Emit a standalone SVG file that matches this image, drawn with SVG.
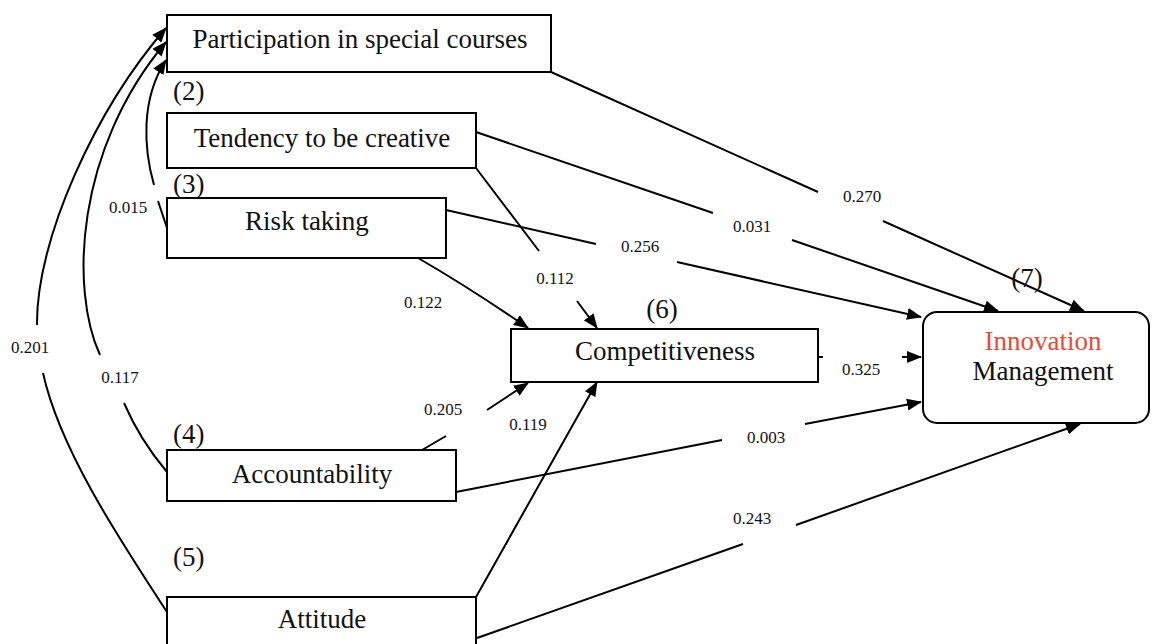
<svg xmlns="http://www.w3.org/2000/svg" width="1152" height="644" viewBox="0 0 1152 644">
<style>
.box{fill:#fff;stroke:#000;stroke-width:2}
.t{font-family:"Liberation Serif","Times New Roman",serif;font-size:27px;fill:#111;text-anchor:middle}
.n{font-family:"Liberation Serif","Times New Roman",serif;font-size:27px;fill:#111}
.lbl{font-family:"Liberation Serif","Times New Roman",serif;font-size:17px;fill:#111;text-anchor:middle}
.c{fill:none;stroke:#000;stroke-width:2}
.a{marker-end:url(#ah)}
</style>
<defs>
<marker id="ah" markerUnits="userSpaceOnUse" markerWidth="15" markerHeight="12" refX="14" refY="6" orient="auto">
<path d="M0,0 L15,6 L0,12 Z" fill="#000"/>
</marker>
</defs>
<rect width="1152" height="644" fill="#fff"/>
<g id="connectors">
<path class="c a" d="M551,72 L818,192 M883,221 L1084,311"/>
<path class="c a" d="M476,132 L713,213 M792,240 L998,311"/>
<path class="c a" d="M446,210 L596,244 M677,262 L921,317"/>
<path class="c a" d="M476,168 L539,251 M577,301 L597,328"/>
<path class="c a" d="M418,258 Q470,288 528,328"/>
<path class="c a" d="M818,357 L823,357 M902,357 L921,357"/>
<path class="c a" d="M422,450 L446,436 M487,410 L528,383"/>
<path class="c a" d="M476,597 L597,382"/>
<path class="c a" d="M456,492 L722,440 M805,424 L921,402"/>
<path class="c a" d="M477,638 L743,544 M796,525 L1080,424"/>
<path class="c a" d="M167,612 C120,540 60,450 43,373 M37,325 C36,240 95,110 166,28"/>
<path class="c a" d="M167,472 Q140,440 124,403 M100,355 C70,290 75,150 166,42"/>
<path class="c a" d="M167,228 L158,201 M154,185 C144,150 140,100 166,60"/>
<text class="lbl" x="128" y="213">0.015</text>
<text class="lbl" x="30" y="353">0.201</text>
<text class="lbl" x="120" y="383">0.117</text>
<text class="lbl" x="862" y="202">0.270</text>
<text class="lbl" x="752" y="232">0.031</text>
<text class="lbl" x="640" y="252">0.256</text>
<text class="lbl" x="555" y="284">0.112</text>
<text class="lbl" x="423" y="308">0.122</text>
<text class="lbl" x="861" y="375">0.325</text>
<text class="lbl" x="443" y="415">0.205</text>
<text class="lbl" x="528" y="430">0.119</text>
<text class="lbl" x="766" y="443">0.003</text>
<text class="lbl" x="752" y="524">0.243</text>
</g>
<g id="node1">
<rect class="box" x="167" y="15" width="384" height="57"/>
<text class="t" x="360" y="48">Participation in special courses</text>
</g>
<g id="node2">
<text class="n" x="173" y="100">(2)</text>
<rect class="box" x="167" y="113" width="309" height="55"/>
<text class="t" x="322" y="147">Tendency to be creative</text>
</g>
<g id="node3">
<text class="n" x="173" y="193">(3)</text>
<rect class="box" x="167" y="198" width="279" height="60"/>
<text class="t" x="307" y="230">Risk taking</text>
</g>
<g id="node4">
<text class="n" x="173" y="443">(4)</text>
<rect class="box" x="167" y="450" width="289" height="51"/>
<text class="t" x="312" y="483">Accountability</text>
</g>
<g id="node5">
<text class="n" x="173" y="566">(5)</text>
<rect class="box" x="167" y="597" width="309" height="60"/>
<text class="t" x="322" y="628">Attitude</text>
</g>
<g id="node6">
<text class="t" x="662" y="318">(6)</text>
<rect class="box" x="511" y="329" width="307" height="53"/>
<text class="t" x="665" y="360">Competitiveness</text>
</g>
<g id="node7">
<rect class="box" x="923" y="312" width="226" height="111" rx="14"/>
<text class="t" x="1027" y="287">(7)</text>
<text class="t" x="1043" y="350" style="fill:#e84a35">Innovation</text>
<text class="t" x="1043" y="380">Management</text>
</g>
</svg>
